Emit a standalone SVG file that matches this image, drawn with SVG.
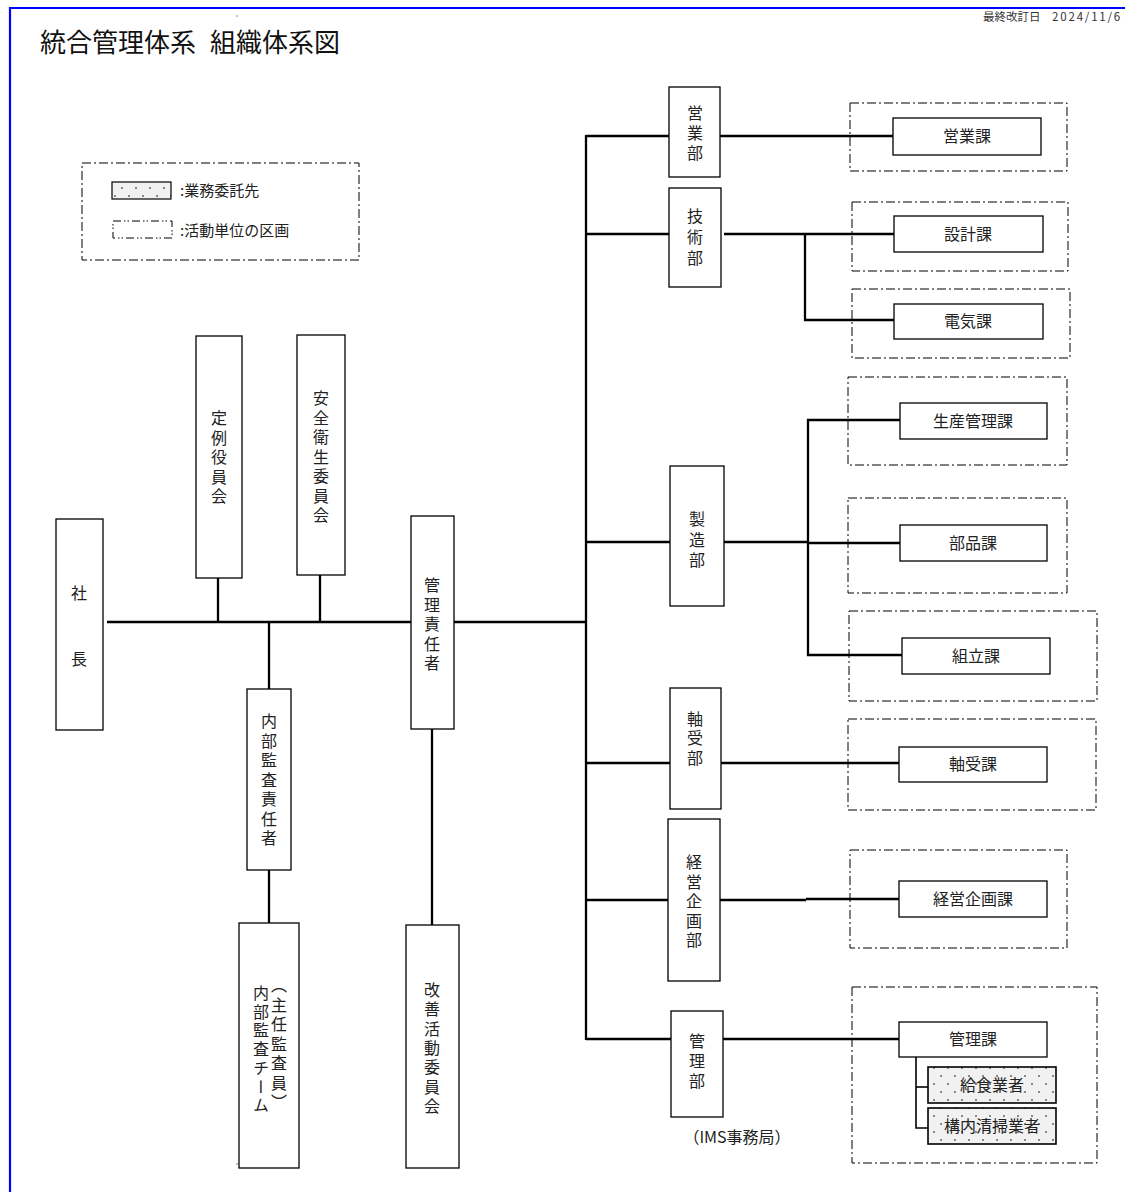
<svg xmlns="http://www.w3.org/2000/svg" width="1125" height="1192" viewBox="0 0 1125 1192">
<defs>
<pattern id="dots" width="14" height="16" patternUnits="userSpaceOnUse">
<rect width="14" height="16" fill="#f1f1f1"/>
<circle cx="3" cy="4" r="0.9" fill="#555"/>
<circle cx="10" cy="12" r="0.9" fill="#555"/>
</pattern>
<style>
.box{fill:#fff;stroke:#000;stroke-width:1.3}
.sub{fill:url(#dots);stroke:#000;stroke-width:1.6}
.unit{fill:none;stroke:#000;stroke-width:1;stroke-dasharray:9 3 2 3}
.ln{stroke:#000;stroke-width:2.3;fill:none}
.t{font-family:"Noto Sans CJK JP","Noto Sans",sans-serif;font-size:16px;fill:#222}
.c{text-anchor:middle}
.v{writing-mode:vertical-rl}
</style>
</defs>
<rect width="1125" height="1192" fill="#fff"/>
<path d="M10,1192 V8 H1125" fill="none" stroke="#0000ff" stroke-width="2.2"/>
<circle cx="237" cy="16" r="0.8" fill="#777"/>
<circle cx="237" cy="1164" r="0.8" fill="#777"/>
<text class="t" x="40" y="52" style="font-size:26px;fill:#111">統合管理体系 <tspan x="210">組織体系図</tspan></text>
<text class="t" x="1122" y="21" style="font-size:11.5px;text-anchor:end;fill:#333">最終改訂日　<tspan style="letter-spacing:1.8px">2024/11/6</tspan></text>

<g id="legend">
<rect class="unit" x="82" y="163" width="277" height="97"/>
<rect class="sub" x="112" y="182" width="59" height="17" style="stroke-width:1.2"/>
<text class="t" x="180" y="196" style="font-size:15px">:業務委託先</text>
<rect class="unit" x="113" y="221" width="59" height="17" style="stroke-dasharray:8 3 1.5 2 1.5 3"/>
<text class="t" x="180" y="236" style="font-size:15px">:活動単位の区画</text>
</g>

<g id="units">
<rect class="unit" x="850" y="103" width="217" height="68"/>
<rect class="unit" x="852" y="202" width="216" height="69"/>
<rect class="unit" x="852" y="289" width="218" height="69"/>
<rect class="unit" x="848" y="377" width="219" height="88"/>
<rect class="unit" x="848" y="498" width="219" height="95"/>
<rect class="unit" x="849" y="611" width="248" height="90"/>
<rect class="unit" x="848" y="719" width="248" height="91"/>
<rect class="unit" x="850" y="850" width="217" height="98"/>
<rect class="unit" x="852" y="987" width="245" height="176"/>
</g>

<g id="connectors">
<line class="ln" x1="107" y1="622" x2="411" y2="622"/>
<line class="ln" x1="454" y1="622" x2="587" y2="622"/>
<line class="ln" x1="218" y1="578" x2="218" y2="622"/>
<line class="ln" x1="320" y1="575" x2="320" y2="622"/>
<line class="ln" x1="269" y1="622" x2="269" y2="689"/>
<line class="ln" x1="269" y1="870" x2="269" y2="923"/>
<line class="ln" x1="432" y1="729" x2="432" y2="925"/>
<line class="ln" x1="586" y1="135" x2="586" y2="1040"/>
<line class="ln" x1="586" y1="136" x2="669" y2="136"/>
<line class="ln" x1="586" y1="234" x2="669" y2="234"/>
<line class="ln" x1="586" y1="542" x2="670" y2="542"/>
<line class="ln" x1="586" y1="763" x2="670" y2="763"/>
<line class="ln" x1="585" y1="900" x2="668" y2="900"/>
<line class="ln" x1="586" y1="1039" x2="671" y2="1039"/>
<line class="ln" x1="720" y1="136" x2="893" y2="136"/>
<line class="ln" x1="724" y1="234" x2="894" y2="234"/>
<polyline class="ln" points="805,234 805,320 894,320"/>
<line class="ln" x1="724" y1="542" x2="808" y2="542"/>
<polyline class="ln" points="900,420 808,420 808,655 902,655"/>
<line class="ln" x1="808" y1="543" x2="900" y2="543"/>
<line class="ln" x1="721" y1="763" x2="899" y2="763"/>
<line class="ln" x1="720" y1="900" x2="806" y2="900"/>
<line class="ln" x1="806" y1="899" x2="899" y2="899"/>
<line class="ln" x1="723" y1="1039" x2="899" y2="1039"/>
<polyline class="ln" points="916,1057 916,1128 928,1128" style="stroke-width:1.6"/>
<line class="ln" x1="916" y1="1087" x2="928" y2="1087" style="stroke-width:1.6"/>
</g>

<g id="shacho">
<rect class="box" x="56" y="519" width="47" height="211"/>
<text class="t v" x="79" y="585" style="letter-spacing:50px">社長</text>
</g>
<g id="teirei">
<rect class="box" x="196" y="336" width="46" height="242"/>
<text class="t v" x="219" y="410" style="letter-spacing:3.5px">定例役員会</text>
</g>
<g id="anzen">
<rect class="box" x="297" y="335" width="48" height="240"/>
<text class="t v" x="321" y="390" style="letter-spacing:3.5px">安全衛生委員会</text>
</g>
<g id="kanri-sekinin">
<rect class="box" x="411" y="516" width="43" height="213"/>
<text class="t v" x="432" y="577" style="letter-spacing:3.5px">管理責任者</text>
</g>
<g id="kaizen">
<rect class="box" x="406" y="925" width="53" height="243"/>
<text class="t v" x="432" y="982" style="letter-spacing:3.3px">改善活動委員会</text>
</g>
<g id="naibu-sekinin">
<rect class="box" x="247" y="689" width="44" height="181"/>
<text class="t v" x="269" y="713" style="letter-spacing:3.5px">内部監査責任者</text>
</g>
<g id="naibu-team">
<rect class="box" x="239" y="923" width="60" height="245"/>
<text class="t v" x="279" y="977" style="letter-spacing:3.5px">（主任監査員）</text>
<text class="t v" x="261" y="985" style="letter-spacing:2.7px">内部監査チーム</text>
</g>

<g id="eigyo-bu">
<rect class="box" x="669" y="87" width="51" height="90"/>
<text class="t v" x="695" y="105" style="letter-spacing:4px">営業部</text>
</g>
<g id="gijutsu-bu">
<rect class="box" x="669" y="188" width="52" height="99"/>
<text class="t v" x="695" y="208" style="letter-spacing:5px">技術部</text>
</g>
<g id="seizo-bu">
<rect class="box" x="670" y="466" width="54" height="140"/>
<text class="t v" x="697" y="511" style="letter-spacing:4.5px">製造部</text>
</g>
<g id="jikuuke-bu">
<rect class="box" x="670" y="688" width="51" height="121"/>
<text class="t v" x="695" y="711" style="letter-spacing:3.3px">軸受部</text>
</g>
<g id="keiei-bu">
<rect class="box" x="668" y="819" width="52" height="162"/>
<text class="t v" x="694" y="854" style="letter-spacing:3.5px">経営企画部</text>
</g>
<g id="kanri-bu">
<rect class="box" x="671" y="1011" width="52" height="106"/>
<text class="t v" x="697" y="1033" style="letter-spacing:4px">管理部</text>
<text class="t c" x="737" y="1143" style="font-size:16px">（IMS事務局）</text>
</g>

<g id="eigyo-ka">
<rect class="box" x="893" y="118" width="148" height="37"/>
<text class="t c" x="967" y="142">営業課</text>
</g>
<g id="sekkei-ka">
<rect class="box" x="894" y="216" width="149" height="36"/>
<text class="t c" x="968" y="240">設計課</text>
</g>
<g id="denki-ka">
<rect class="box" x="894" y="304" width="149" height="35"/>
<text class="t c" x="968" y="327">電気課</text>
</g>
<g id="seisan-ka">
<rect class="box" x="900" y="403" width="147" height="36"/>
<text class="t c" x="973" y="427">生産管理課</text>
</g>
<g id="buhin-ka">
<rect class="box" x="900" y="525" width="147" height="36"/>
<text class="t c" x="973" y="549">部品課</text>
</g>
<g id="kumitate-ka">
<rect class="box" x="902" y="638" width="148" height="36"/>
<text class="t c" x="976" y="662">組立課</text>
</g>
<g id="jikuuke-ka">
<rect class="box" x="899" y="747" width="148" height="35"/>
<text class="t c" x="973" y="770">軸受課</text>
</g>
<g id="keiei-ka">
<rect class="box" x="899" y="881" width="148" height="36"/>
<text class="t c" x="973" y="905">経営企画課</text>
</g>
<g id="kanri-ka">
<rect class="box" x="899" y="1022" width="148" height="35"/>
<text class="t c" x="973" y="1045">管理課</text>
</g>
<g id="kyushoku">
<rect class="sub" x="928" y="1067" width="128" height="36"/>
<text class="t c" x="992" y="1091">給食業者</text>
</g>
<g id="seiso">
<rect class="sub" x="928" y="1108" width="128" height="36"/>
<text class="t c" x="992" y="1132">構内清掃業者</text>
</g>
</svg>
